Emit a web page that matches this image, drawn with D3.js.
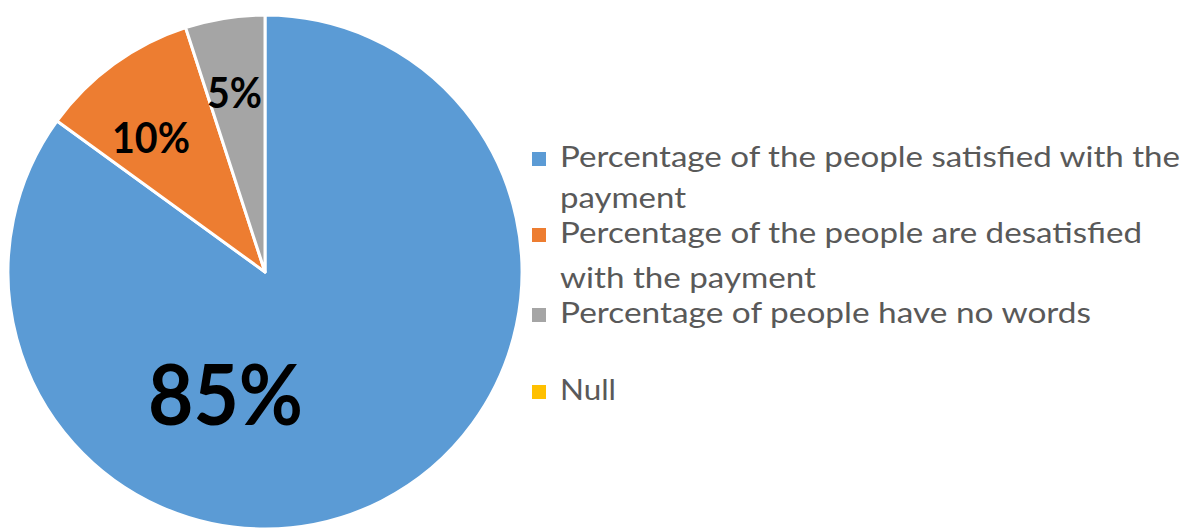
<!DOCTYPE html>
<html>
<head>
<meta charset="utf-8">
<script src="https://cdn.jsdelivr.net/npm/d3@7/dist/d3.min.js"></script>
<style>
  html, body { margin: 0; padding: 0; background: #ffffff; }
  svg { display: block; }
</style>
</head>
<body>
<svg id="chart" width="1185" height="529"></svg>
<script>
// Survey answers about the payment, as shares of respondents
const categories = [
  "Percentage of the people satisfied with the payment",
  "Percentage of the people are desatisfied with the payment",
  "Percentage of people have no words",
  "Null"
];
const values = [85, 10, 5, 0];
const valueLabels = ["85%", "10%", "5%", ""];
// Legend text broken into the lines it is shown on
const legendLines = [
  ["Percentage of the people satisfied with the", "payment"],
  ["Percentage of the people are desatisfied", "with the payment"],
  ["Percentage of people have no words"],
  ["Null"]
];
const colors = ["#5B9BD5", "#ED7D31", "#A5A5A5", "#FFC000"];

const svg = d3.select("#chart");
const cx = 265, cy = 272, radius = 257;

const color = d3.scaleOrdinal().domain(categories).range(colors);

const pie = d3.pie().sort(null).value(d => d.value);
const data = categories.map((c, i) => ({ name: c, value: values[i], label: valueLabels[i] }));
const arcs = pie(data);
const arc = d3.arc().innerRadius(0).outerRadius(radius);

const g = svg.append("g").attr("transform", `translate(${cx},${cy})`);

g.selectAll("path.slice")
  .data(arcs.filter(a => a.data.value > 0))
  .join("path")
  .attr("class", "slice")
  .attr("d", arc)
  .attr("fill", d => color(d.data.name))
  .attr("stroke", "#ffffff")
  .attr("stroke-width", 3)
  .attr("stroke-linejoin", "round");

// Data labels: offset from the pie centre, font size, and fitted width
const labelPlacement = [
  { dx: -39.5, dy: 153, size: 84, width: 155 },
  { dx: -114, dy: -119, size: 42, width: 78 },
  { dx: -30.5, dy: -164, size: 42, width: 55 }
];
g.selectAll("text.value")
  .data(arcs.filter(a => a.data.value > 0))
  .join("text")
  .attr("class", "value")
  .attr("x", (d, i) => labelPlacement[i].dx)
  .attr("y", (d, i) => labelPlacement[i].dy)
  .attr("text-anchor", "middle")
  .attr("font-family", "Lato, 'Open Sans', sans-serif")
  .attr("font-weight", "bold")
  .attr("font-size", (d, i) => labelPlacement[i].size)
  .attr("textLength", (d, i) => labelPlacement[i].width)
  .attr("lengthAdjust", "spacingAndGlyphs")
  .attr("fill", "#000000")
  .text(d => d.data.label);

// Legend
const legendX = 532, textX = 560;
const lineBaselines = [[167, 208], [243, 288], [323], [400]];
const lineWidths = [[620, 126], [582, 256], [531], [56]];

const legend = svg.append("g").attr("class", "legend");
const items = legend.selectAll("g.item")
  .data(categories)
  .join("g")
  .attr("class", "item");

items.append("rect")
  .attr("x", legendX)
  .attr("y", (d, i) => lineBaselines[i][0] - 15)
  .attr("width", 14)
  .attr("height", 14)
  .attr("fill", d => color(d));

items.each(function (d, i) {
  d3.select(this).selectAll("text")
    .data(legendLines[i])
    .join("text")
    .attr("x", textX)
    .attr("y", (t, j) => lineBaselines[i][j])
    .attr("font-family", "Lato, 'Open Sans', sans-serif")
    .attr("font-size", 28)
    .attr("fill", "#595959")
    .attr("textLength", (t, j) => lineWidths[i][j])
    .attr("lengthAdjust", "spacingAndGlyphs")
    .text(t => t);
});
</script>
</body>
</html>
